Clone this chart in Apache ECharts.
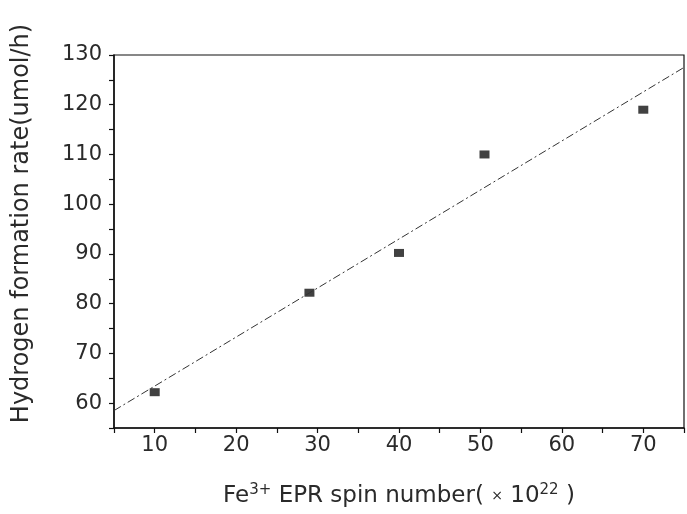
<!DOCTYPE html>
<html><head><meta charset="utf-8">
<script src="https://cdn.jsdelivr.net/npm/echarts@6/dist/echarts.min.js"></script>
<style>html,body{margin:0;padding:0;background:#fff}#c{width:687px;height:514px}</style>
</head><body><div id="c"></div>
<script>
const spinNumber = [10, 29, 40, 50.5, 70];
const h2Rate = [62.2, 82.2, 90.2, 110, 119];
const fitX = [5, 75];
const fitY = [58.5, 127.5];
const xTicks = [10, 20, 30, 40, 50, 60, 70];
const yTicks = [60, 70, 80, 90, 100, 110, 120, 130];

const chart = echarts.init(document.getElementById('c'));
const font = 'DejaVu Sans, sans-serif';
const txt = '#2a2a2a';
chart.setOption({
  animation: false,
  grid: {left: 114, right: 2, top: 55, bottom: 86, show: true, borderColor: '#111', borderWidth: 1.2, backgroundColor: 'transparent'},
  xAxis: {
    type: 'value', min: 5, max: 75, interval: 5,
    axisLine: {lineStyle: {color: '#111', width: 1.5}},
    axisTick: {length: 5, lineStyle: {color: '#111', width: 1.2}},
    axisLabel: {color: txt, fontFamily: font, fontSize: 21, margin: 7,
      formatter: v => xTicks.includes(v) ? String(v) : ''},
    splitLine: {show: false},
    name: '{a|Fe}{s|3+}{a| EPR spin number( }{m|×}{a| 10}{s|22}{a| )}',
    nameLocation: 'middle', nameGap: 55,
    nameTextStyle: {rich: {
      a: {fontFamily: font, fontSize: 23, color: txt},
      s: {fontFamily: font, fontSize: 15, color: txt, verticalAlign: 'top', padding: [0,0,12,0]},
      m: {fontFamily: font, fontSize: 14, color: txt}
    }}
  },
  yAxis: {
    type: 'value', min: 55, max: 130, interval: 5,
    axisLine: {lineStyle: {color: '#111', width: 1.5}},
    axisTick: {length: 5, lineStyle: {color: '#111', width: 1.2}},
    axisLabel: {color: txt, fontFamily: font, fontSize: 21, margin: 12,
      formatter: v => yTicks.includes(v) ? String(v) : ''},
    splitLine: {show: false},
    name: 'Hydrogen formation rate(umol/h)',
    nameLocation: 'middle', nameGap: 80,
    nameTextStyle: {fontFamily: font, fontSize: 24, color: txt, padding: [0, 0, 0, 36]}
  },
  series: [
    {type: 'line', data: fitX.map((x, i) => [x, fitY[i]]), showSymbol: false, symbol: 'none',
     lineStyle: {color: '#333', width: 1, type: [8, 3, 2, 3]}, silent: true},
    {type: 'scatter', data: spinNumber.map((x, i) => [x, h2Rate[i]]), symbol: 'rect', symbolSize: [10, 8],
     itemStyle: {color: '#111'}}
  ]
});
</script></body></html>
